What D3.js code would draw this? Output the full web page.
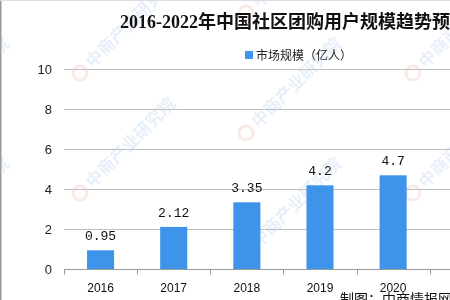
<!DOCTYPE html>
<html>
<head>
<meta charset="utf-8">
<script src="https://cdn.jsdelivr.net/npm/d3@7"></script>
<style>
  html, body { margin: 0; padding: 0; background: #fff; overflow: hidden; }
</style>
</head>
<body>
<svg id="chart"></svg>
<script>
const width = 450;
const height = 300;

// data (2021, 2022 fall outside the cropped picture)
const years = ["2016", "2017", "2018", "2019", "2020", "2021", "2022"];
const users = [0.95, 2.12, 3.35, 4.2, 4.7, 6.46, 7.7];
const yTicks = [0, 2, 4, 6, 8, 10];

const svg = d3.select("#chart")
    .attr("width", width)
    .attr("height", height);

svg.append("rect")
    .attr("width", width).attr("height", height)
    .attr("fill", "#fff");

// faint watermark pattern
const wm = svg.append("g").attr("opacity", 0.22);
const marks = [[80, 73], [246, 133], [413, 73], [80, 193], [246, 253], [413, 193], [-86, 133], [-86, 253], [246, 13]];
marks.forEach(([mx, my]) => {
    const g = wm.append("g").attr("transform", `translate(${mx},${my}) rotate(-45)`);
    g.append("circle").attr("r", 7).attr("fill", "none")
        .attr("stroke", "#e8a08a").attr("stroke-width", 3);
    g.append("text").attr("x", 12).attr("y", 6)
        .attr("font-family", "'Noto Sans CJK SC', sans-serif")
        .attr("font-size", 17).attr("font-weight", "bold")
        .attr("fill", "#8fb8e6")
        .text("中商产业研究院");
});

const x = d3.scaleBand()
    .domain(years)
    .range([64, 64 + 73.14 * years.length])
    .paddingInner(0.63)
    .paddingOuter(0.315);

const y = d3.scaleLinear()
    .domain([0, 10])
    .range([269.3, 69.3]);

// gridlines
svg.append("g")
    .selectAll("line")
    .data(yTicks.filter(d => d > 0))
    .enter().append("line")
    .attr("x1", 64).attr("x2", width)
    .attr("y1", d => Math.round(y(d)) + 0.5)
    .attr("y2", d => Math.round(y(d)) + 0.5)
    .attr("stroke", "#bfbfbf");

// y labels
svg.append("g")
    .selectAll("text")
    .data(yTicks)
    .enter().append("text")
    .attr("x", 52)
    .attr("y", d => y(d))
    .attr("dy", "0.35em")
    .attr("text-anchor", "end")
    .attr("font-family", "'Liberation Sans', sans-serif")
    .attr("font-size", 13)
    .attr("fill", "#222")
    .text(d => d);

// bars
svg.append("g")
    .selectAll("rect")
    .data(years)
    .enter().append("rect")
    .attr("x", d => x(d))
    .attr("width", x.bandwidth())
    .attr("y", (d, i) => y(users[i]))
    .attr("height", (d, i) => y(0) - y(users[i]))
    .attr("fill", "#3e93ea");

// value labels
svg.append("g")
    .selectAll("text")
    .data(years)
    .enter().append("text")
    .attr("x", d => x(d) + x.bandwidth() / 2)
    .attr("y", (d, i) => y(users[i]) - 10)
    .attr("text-anchor", "middle")
    .attr("font-family", "'Liberation Mono', monospace")
    .attr("font-size", 13)
    .attr("fill", "#111")
    .text((d, i) => users[i]);

// x axis
const xAxis = svg.append("g").attr("transform", `translate(0,${Math.round(y(0)) + 0.5})`);
xAxis.append("line")
    .attr("x1", 64).attr("x2", width)
    .attr("stroke", "#999");
xAxis.selectAll(".tk")
    .data(d3.range(years.length + 1))
    .enter().append("line")
    .attr("class", "tk")
    .attr("x1", i => Math.round(64 + x.step() * i) + 0.5)
    .attr("x2", i => Math.round(64 + x.step() * i) + 0.5)
    .attr("y1", 0).attr("y2", 5)
    .attr("stroke", "#999");
xAxis.selectAll(".lbl")
    .data(years)
    .enter().append("text")
    .attr("class", "lbl")
    .attr("x", d => x(d) + x.bandwidth() / 2)
    .attr("y", 22)
    .attr("text-anchor", "middle")
    .attr("font-family", "'Liberation Sans', sans-serif")
    .attr("font-size", 12)
    .attr("fill", "#111")
    .text(d => d);

// title
svg.append("text")
    .attr("x", 120)
    .attr("y", 28)
    .attr("font-family", "'Liberation Serif', 'Noto Sans CJK SC', serif")
    .attr("font-size", 18)
    .attr("font-weight", "bold")
    .attr("fill", "#111")
    .text("2016-2022年中国社区团购用户规模趋势预测");

// legend
svg.append("rect")
    .attr("x", 245).attr("y", 51)
    .attr("width", 8).attr("height", 8)
    .attr("fill", "#3e93ea");
svg.append("text")
    .attr("x", 256).attr("y", 59.5)
    .attr("font-family", "'Noto Sans CJK SC', sans-serif")
    .attr("font-size", 12)
    .attr("fill", "#222")
    .text("市场规模（亿人）");

// source
svg.append("text")
    .attr("x", 340).attr("y", 304)
    .attr("font-family", "'Noto Sans CJK SC', sans-serif")
    .attr("font-size", 14)
    .attr("fill", "#111")
    .text("制图：中商情报网");

// frame edges
svg.append("line").attr("x1", 0.5).attr("x2", 0.5).attr("y1", 0).attr("y2", height)
    .attr("stroke", "#999").attr("stroke-width", 2);
svg.append("line").attr("x1", 0).attr("x2", width).attr("y1", 0.5).attr("y2", 0.5)
    .attr("stroke", "#ddd");
</script>
</body>
</html>
